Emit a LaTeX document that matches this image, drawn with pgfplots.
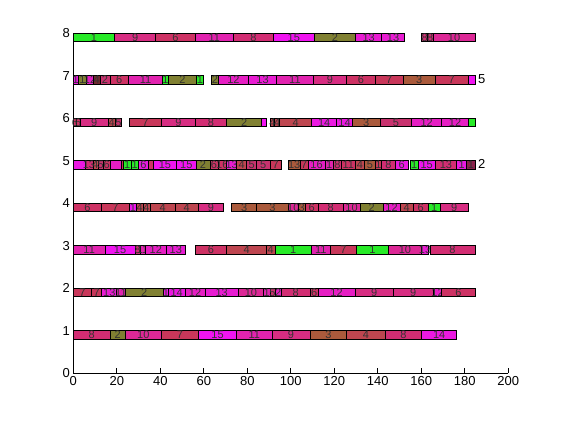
\documentclass[border=0pt]{standalone}
\usepackage{pgfplots}
\pgfplotsset{compat=1.18}
\usepackage{fontspec}
\setmainfont{Liberation Sans}
\definecolor{ja}{RGB}{40,235,40}
\definecolor{jb}{RGB}{128,128,50}
\definecolor{jc}{RGB}{170,90,60}
\definecolor{jd}{RGB}{190,70,80}
\definecolor{je}{RGB}{200,50,110}
\definecolor{jf}{RGB}{205,50,100}
\definecolor{jg}{RGB}{200,55,90}
\definecolor{jh}{RGB}{210,45,115}
\definecolor{ji}{RGB}{215,45,130}
\definecolor{jj}{RGB}{220,40,150}
\definecolor{jk}{RGB}{225,35,175}
\definecolor{jl}{RGB}{230,30,195}
\definecolor{jm}{RGB}{232,28,210}
\definecolor{jn}{RGB}{235,25,225}
\definecolor{jo}{RGB}{240,20,240}
\newcommand{\lbl}{\fontsize{11}{12}\selectfont}
\newcommand{\B}[6]{%
\addplot[fill=#5,draw=black,line width=0.7pt,forget plot] coordinates {(#1,#3) (#2,#3) (#2,#4) (#1,#4)} -- cycle;
\addplot[draw=none,forget plot] coordinates {(#1,#3) (#2,#4)} node[pos=0.5,font=\lbl,inner sep=0pt,text=black!80] {#6};
}
\begin{document}
\begin{tikzpicture}
\path[use as bounding box] (0pt,0pt) rectangle (561pt,420pt);
\begin{axis}[
  at={(73.3pt,46.7pt)}, anchor=south west,
  scale only axis, width=435pt, height=340pt,
  xmin=0, xmax=200, ymin=0, ymax=8,
  axis lines=left, axis line style={-, line width=0.8pt},
  tick align=inside, major tick length=5pt,
  tick style={black, line width=0.8pt},
  xtick={0,20,...,200}, ytick={0,1,...,8},
  ticklabel style={font=\fontsize{13}{15}\selectfont},
  /pgf/number format/assume math mode=true,
  clip=false,
]
% row 8
\B{0}{18.9}{7.8}{8.0}{ja}{1}
\B{18.9}{37.9}{7.8}{8.0}{ji}{9}
\B{37.9}{56}{7.8}{8.0}{jf}{6}
\B{56}{73.6}{7.8}{8.0}{jk}{11}
\B{73.6}{92}{7.8}{8.0}{jh}{8}
\B{92}{110.8}{7.8}{8.0}{jo}{15}
\B{110.8}{129.8}{7.8}{8.0}{jb}{2}
\B{129.8}{141.8}{7.8}{8.0}{jm}{13}
\B{141.8}{152.2}{7.8}{8.0}{jm}{13}
\B{160.2}{162.8}{7.8}{8.0}{jh}{8}
\B{162.8}{165.4}{7.8}{8.0}{jh}{8}
\B{165.4}{184.7}{7.8}{8.0}{jj}{10}
% row 7
\B{0}{2.3}{6.8}{7.0}{jn}{1}
\B{2.3}{6.2}{6.8}{7.0}{jb}{1}
\B{6.2}{9.2}{6.8}{7.0}{jl}{12}
\B{9.2}{12.3}{6.8}{7.0}{jd!60!black}{4}
\B{12.3}{16.9}{6.8}{7.0}{je}{2}
\B{16.9}{25.3}{6.8}{7.0}{jf}{6}
\B{25.3}{41.1}{6.8}{7.0}{jk}{11}
\B{41.1}{43.7}{6.8}{7.0}{ja}{1}
\B{43.7}{56.7}{6.8}{7.0}{jb}{2}
\B{56.7}{59.8}{6.8}{7.0}{ja}{1}
\B{63.6}{66.7}{6.8}{7.0}{jb}{2}
\B{66.7}{80.5}{6.8}{7.0}{jl}{12}
\B{80.5}{93.5}{6.8}{7.0}{jm}{13}
\B{93.5}{110.3}{6.8}{7.0}{jk}{11}
\B{110.3}{125.7}{6.8}{7.0}{ji}{9}
\B{125.7}{138.7}{6.8}{7.0}{jf}{6}
\B{138.7}{151.7}{6.8}{7.0}{jg}{7}
\B{151.7}{166.3}{6.8}{7.0}{jc}{3}
\B{166.3}{181.6}{6.8}{7.0}{jg}{7}
\B{181.6}{184.7}{6.8}{7.0}{jo}{}
\addplot[draw=none,forget plot] coordinates {(186,6.92)} node[anchor=west,inner sep=0pt,font=\fontsize{13}{15}\selectfont] {5};
% row 6
\B{0}{1.5}{5.8}{6.0}{jf}{6}
\B{1.5}{3.1}{5.8}{6.0}{jf}{6}
\B{3.1}{16.1}{5.8}{6.0}{ji}{9}
\B{16.1}{19.2}{5.8}{6.0}{jd}{4}
\B{19.2}{22.3}{5.8}{6.0}{je}{5}
\B{25.7}{40.6}{5.8}{6.0}{jg}{7}
\B{40.6}{56}{5.8}{6.0}{ji}{9}
\B{56}{70.5}{5.8}{6.0}{jh}{8}
\B{70.5}{86.6}{5.8}{6.0}{jb}{2}
\B{86.6}{88.9}{5.8}{6.0}{jo}{}
\B{90.4}{92.6}{5.8}{6.0}{jd}{4}
\B{92.6}{94.8}{5.8}{6.0}{jd}{4}
\B{94.8}{109.6}{5.8}{6.0}{jd}{4}
\B{109.6}{121.1}{5.8}{6.0}{jn}{14}
\B{121.1}{128.3}{5.8}{6.0}{jn}{14}
\B{128.3}{141}{5.8}{6.0}{jc}{3}
\B{141}{155.6}{5.8}{6.0}{je}{5}
\B{155.6}{169.4}{5.8}{6.0}{jl}{12}
\B{169.4}{181.6}{5.8}{6.0}{jl}{12}
\B{181.6}{184.7}{5.8}{6.0}{ja}{}
% row 5
\B{0}{5.4}{4.8}{5.0}{jn}{}
\B{5.4}{9}{4.8}{5.0}{jh}{13}
\B{9}{11.4}{4.8}{5.0}{jd}{4}
\B{11.4}{13.8}{4.8}{5.0}{je}{5}
\B{13.8}{16.9}{4.8}{5.0}{jf}{6}
\B{16.9}{22.3}{4.8}{5.0}{jl}{}
\B{22.3}{23.0}{4.8}{5.0}{jg}{}
\B{23.0}{26.5}{4.8}{5.0}{ja}{1}
\B{26.5}{29.9}{4.8}{5.0}{ja}{1}
\B{29.9}{34.5}{4.8}{5.0}{jn}{6}
\B{34.5}{36.8}{4.8}{5.0}{jf}{}
\B{36.8}{47.5}{4.8}{5.0}{jo}{15}
\B{47.5}{56.4}{4.8}{5.0}{jo}{15}
\B{56.4}{62.9}{4.8}{5.0}{jb}{2}
\B{62.9}{66.5}{4.8}{5.0}{jf}{6}
\B{66.5}{70.5}{4.8}{5.0}{jf}{16}
\B{70.5}{75.1}{4.8}{5.0}{jm}{13}
\B{75.1}{79.7}{4.8}{5.0}{jd}{4}
\B{79.7}{84.3}{4.8}{5.0}{je}{5}
\B{84.3}{90.4}{4.8}{5.0}{je}{5}
\B{90.4}{95.8}{4.8}{5.0}{jg}{7}
\B{98.9}{104.2}{4.8}{5.0}{jc}{13}
\B{104.2}{108}{4.8}{5.0}{jg}{7}
\B{108}{115.7}{4.8}{5.0}{jl}{16}
\B{115.7}{119.5}{4.8}{5.0}{jk}{1}
\B{119.5}{123.4}{4.8}{5.0}{jh}{8}
\B{123.4}{129.5}{4.8}{5.0}{jf}{11}
\B{129.5}{134}{4.8}{5.0}{jd}{4}
\B{134}{138.7}{4.8}{5.0}{jc}{5}
\B{138.7}{141.8}{4.8}{5.0}{jg}{1}
\B{141.8}{148}{4.8}{5.0}{jh}{8}
\B{148}{154}{4.8}{5.0}{jn}{6}
\B{154.8}{158.6}{4.8}{5.0}{ja}{1}
\B{158.6}{166.3}{4.8}{5.0}{jo}{15}
\B{166.3}{176.3}{4.8}{5.0}{jh}{13}
\B{176.3}{180.9}{4.8}{5.0}{jn}{1}
\B{180.9}{184.7}{4.8}{5.0}{je!70!black}{1}
\addplot[draw=none,forget plot] coordinates {(186,4.92)} node[anchor=west,inner sep=0pt,font=\fontsize{13}{15}\selectfont] {2};
% row 4
\B{0}{13.1}{3.8}{4.0}{jf}{6}
\B{13.1}{25.7}{3.8}{4.0}{jg}{7}
\B{25.7}{29.1}{3.8}{4.0}{jo}{1}
\B{29.1}{32}{3.8}{4.0}{jd}{4}
\B{32}{35.3}{3.8}{4.0}{jd}{4}
\B{35.3}{46.8}{3.8}{4.0}{jd}{4}
\B{46.8}{57.5}{3.8}{4.0}{jd}{4}
\B{57.5}{69}{3.8}{4.0}{ji}{9}
\B{72.8}{84.3}{3.8}{4.0}{jc}{3}
\B{84.3}{98.9}{3.8}{4.0}{jc}{3}
\B{98.9}{103.4}{3.8}{4.0}{jj}{10}
\B{103.4}{106.5}{3.8}{4.0}{jc}{3}
\B{106.5}{112.6}{3.8}{4.0}{jf}{6}
\B{112.6}{124.1}{3.8}{4.0}{jh}{8}
\B{124.1}{131.8}{3.8}{4.0}{jj}{10}
\B{131.8}{142.5}{3.8}{4.0}{jb}{2}
\B{142.5}{150.2}{3.8}{4.0}{jl}{12}
\B{150.2}{156.3}{3.8}{4.0}{jd}{4}
\B{156.3}{163.2}{3.8}{4.0}{jf}{6}
\B{163.2}{168.6}{3.8}{4.0}{ja}{1}
\B{168.6}{181.6}{3.8}{4.0}{ji}{9}
% row 3
\B{0}{14.6}{2.8}{3.0}{jk}{11}
\B{14.6}{28.4}{2.8}{3.0}{jo}{15}
\B{28.4}{30.7}{2.8}{3.0}{jh}{8}
\B{30.7}{33}{2.8}{3.0}{jk}{11}
\B{33}{42.9}{2.8}{3.0}{jl}{12}
\B{42.9}{51.4}{2.8}{3.0}{jm}{13}
\B{56}{70.5}{2.8}{3.0}{jf}{6}
\B{70.5}{88.9}{2.8}{3.0}{jd}{4}
\B{88.9}{92.7}{2.8}{3.0}{jd}{4}
\B{92.7}{109.6}{2.8}{3.0}{ja}{1}
\B{109.6}{118}{2.8}{3.0}{jk}{11}
\B{118}{130.3}{2.8}{3.0}{jg}{7}
\B{130.3}{144.8}{2.8}{3.0}{ja}{1}
\B{144.8}{160.2}{2.8}{3.0}{jj}{10}
\B{160.2}{163.2}{2.8}{3.0}{jm}{13}
\B{164}{184.7}{2.8}{3.0}{jh}{8}
% row 2
\B{0}{8.5}{1.8}{2.0}{jg}{7}
\B{8.5}{13.1}{1.8}{2.0}{jg}{7}
\B{13.1}{20}{1.8}{2.0}{jm}{13}
\B{20}{23.8}{1.8}{2.0}{jk}{11}
\B{23.8}{41.4}{1.8}{2.0}{jb}{2}
\B{41.4}{43.7}{1.8}{2.0}{jn}{1}
\B{43.7}{51.4}{1.8}{2.0}{jn}{14}
\B{51.4}{60.6}{1.8}{2.0}{jl}{12}
\B{60.6}{75.9}{1.8}{2.0}{jm}{13}
\B{75.9}{87.4}{1.8}{2.0}{jj}{10}
\B{87.4}{90.4}{1.8}{2.0}{jk}{1}
\B{90.4}{92.7}{1.8}{2.0}{je}{5}
\B{92.7}{95.8}{1.8}{2.0}{jl}{2}
\B{95.8}{108.8}{1.8}{2.0}{jh}{8}
\B{108.8}{112.6}{1.8}{2.0}{jf}{6}
\B{112.6}{129.5}{1.8}{2.0}{jl}{12}
\B{129.5}{147.1}{1.8}{2.0}{ji}{9}
\B{147.1}{165.5}{1.8}{2.0}{ji}{9}
\B{165.5}{169.4}{1.8}{2.0}{jl}{12}
\B{169.4}{184.7}{1.8}{2.0}{jf}{6}
% row 1
\B{0}{16.9}{0.8}{1.0}{jh}{8}
\B{16.9}{23.8}{0.8}{1.0}{jb}{2}
\B{23.8}{40.6}{0.8}{1.0}{jj}{10}
\B{40.6}{57.5}{0.8}{1.0}{jg}{7}
\B{57.5}{75.1}{0.8}{1.0}{jo}{15}
\B{75.1}{91.4}{0.8}{1.0}{jk}{11}
\B{91.4}{108.8}{0.8}{1.0}{ji}{9}
\B{108.8}{125.7}{0.8}{1.0}{jc}{3}
\B{125.7}{143.3}{0.8}{1.0}{jd}{4}
\B{143.3}{160.2}{0.8}{1.0}{jh}{8}
\B{160.2}{176.3}{0.8}{1.0}{jn}{14}
\end{axis}
\end{tikzpicture}
\end{document}
